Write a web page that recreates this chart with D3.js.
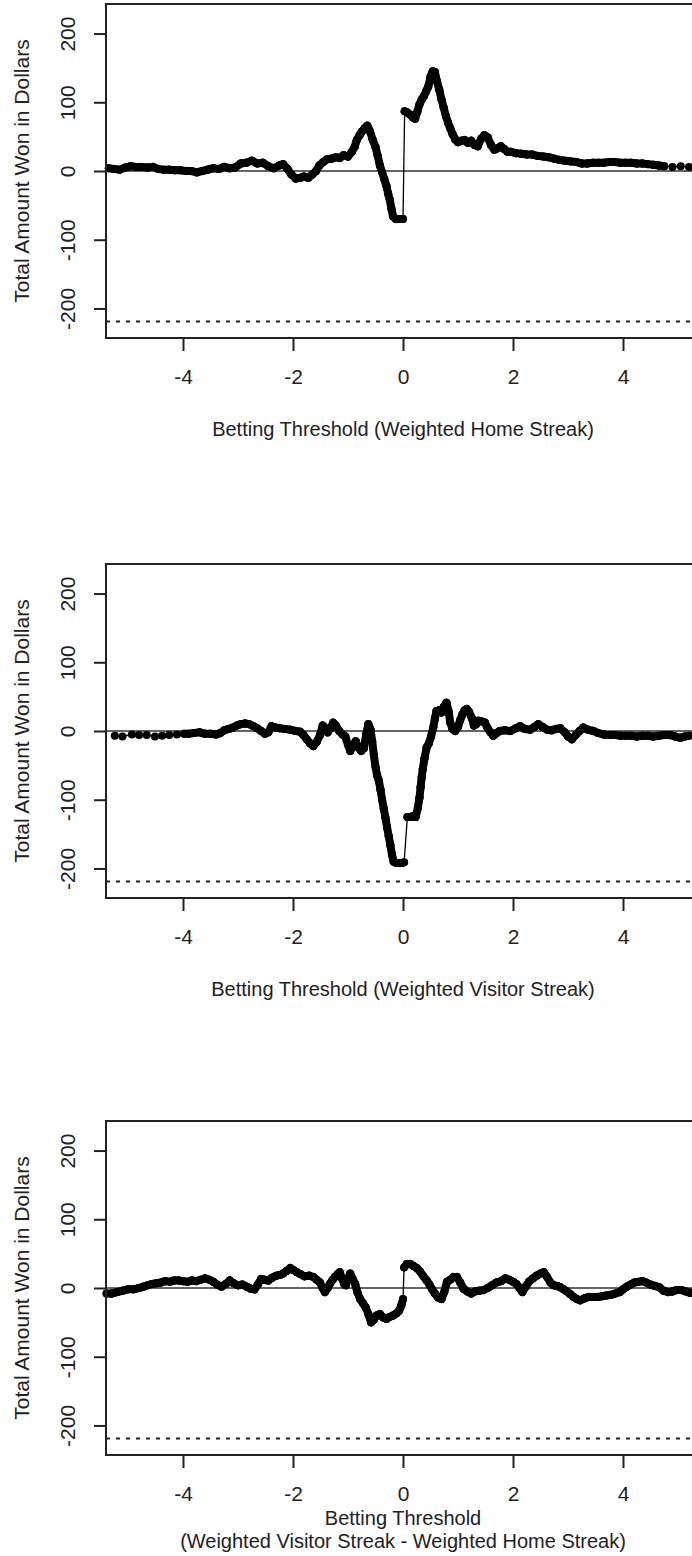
<!DOCTYPE html>
<html>
<head>
<meta charset="utf-8">
<script src="https://cdnjs.cloudflare.com/ajax/libs/d3/7.8.5/d3.min.js"></script>
<style>
  body { margin: 0; background: #fff; }
  svg { display: block; }
  text { font-family: "Liberation Sans", Arial, Helvetica, sans-serif; fill: #222; }
</style>
</head>
<body>
<div id="viz_div"></div>
<script>
// DATA (threshold, total amount won)
// ---------------------------------------------------------------------------------------------------------------------------------
const homePoints = [
  [-5.35, 4], [-5.25, 3], [-5.15, 2], [-5.05, 5], [-4.95, 7], [-4.85, 6], [-4.75, 6], [-4.65, 5], [-4.55, 6], [-4.45, 3],
  [-4.35, 2], [-4.25, 2], [-4.15, 1], [-4.05, 1], [-3.95, 0], [-3.85, 0], [-3.75, -2], [-3.65, 0], [-3.55, 2], [-3.45, 4],
  [-3.35, 3], [-3.25, 6], [-3.15, 4], [-3.05, 5], [-2.95, 11], [-2.85, 12], [-2.75, 15], [-2.65, 11], [-2.55, 12], [-2.45, 7],
  [-2.35, 4], [-2.25, 8], [-2.18, 10], [-2.1, 3], [-2.03, -5], [-1.95, -11], [-1.87, -10], [-1.8, -8], [-1.72, -10], [-1.65, -5],
  [-1.58, 0], [-1.52, 8], [-1.45, 13], [-1.38, 17], [-1.3, 18], [-1.22, 20], [-1.15, 19], [-1.08, 23], [-1.0, 21], [-0.93, 28],
  [-0.88, 35], [-0.84, 45], [-0.79, 52], [-0.75, 57], [-0.7, 62], [-0.65, 66], [-0.6, 58], [-0.55, 45], [-0.5, 35], [-0.46, 22],
  [-0.42, 8], [-0.38, -2], [-0.34, -12], [-0.3, -22], [-0.27, -33], [-0.24, -42], [-0.21, -55], [-0.18, -66], [-0.13, -70], [-0.08, -70],
  [-0.03, -70], [0.0, -70],
  [0.03, 87], [0.08, 85], [0.13, 82], [0.18, 78], [0.22, 76], [0.26, 86], [0.3, 97], [0.34, 104], [0.38, 109], [0.42, 116],
  [0.46, 123], [0.5, 137], [0.54, 145], [0.58, 144], [0.62, 130], [0.66, 118], [0.7, 104], [0.74, 92], [0.78, 80], [0.82, 70],
  [0.86, 62], [0.9, 54], [0.95, 46], [1.0, 42], [1.06, 44], [1.12, 45], [1.18, 41], [1.24, 44], [1.3, 38], [1.36, 36],
  [1.42, 47], [1.48, 52], [1.54, 49], [1.6, 38], [1.66, 31], [1.72, 33], [1.78, 36], [1.84, 32], [1.9, 28], [1.96, 28],
  [2.05, 26], [2.15, 25], [2.25, 24], [2.35, 24], [2.45, 22], [2.55, 21], [2.65, 20], [2.75, 18], [2.85, 16], [2.95, 15],
  [3.05, 14], [3.15, 13], [3.25, 11], [3.35, 11], [3.45, 12], [3.55, 12], [3.65, 12], [3.75, 13], [3.85, 13], [3.95, 12],
  [4.05, 12], [4.15, 12], [4.25, 11], [4.35, 11], [4.45, 10], [4.55, 9], [4.65, 8], [4.75, 7], [4.9, 6], [5.05, 7],
  [5.2, 6], [5.35, 6]
];

const visitorPoints = [
  [-5.24, -7], [-5.1, -8], [-4.93, -5], [-4.8, -6], [-4.66, -6], [-4.51, -8], [-4.38, -7], [-4.25, -6], [-4.11, -5], [-3.98, -4],
  [-3.9, -4], [-3.8, -3], [-3.7, -2], [-3.6, -4], [-3.5, -4], [-3.4, -5], [-3.32, -3], [-3.25, 1], [-3.17, 3], [-3.09, 5],
  [-3.02, 8], [-2.95, 10], [-2.87, 11], [-2.8, 10], [-2.72, 7], [-2.65, 4], [-2.58, 0], [-2.51, -4], [-2.45, -2], [-2.39, 7],
  [-2.32, 5], [-2.24, 4], [-2.15, 3], [-2.05, 2], [-1.95, 0], [-1.87, -1], [-1.81, -6], [-1.75, -12], [-1.69, -18], [-1.63, -22],
  [-1.57, -16], [-1.51, -6], [-1.46, 8], [-1.41, 4], [-1.37, -2], [-1.32, 4], [-1.27, 12], [-1.22, 8], [-1.16, 0], [-1.1, -5],
  [-1.05, -8], [-1.0, -20], [-0.96, -29], [-0.91, -22], [-0.86, -15], [-0.81, -24], [-0.76, -29], [-0.71, -25], [-0.67, -5], [-0.63, 10],
  [-0.59, 2], [-0.56, -15], [-0.53, -35], [-0.5, -52], [-0.47, -65], [-0.44, -72], [-0.41, -85], [-0.38, -100], [-0.35, -113], [-0.32, -126],
  [-0.29, -140], [-0.26, -153], [-0.23, -166], [-0.2, -180], [-0.17, -190], [-0.12, -192], [-0.07, -192], [-0.02, -192], [0.02, -191],
  [0.08, -125], [0.13, -125], [0.18, -124], [0.23, -125], [0.27, -112], [0.3, -97], [0.32, -82], [0.34, -67], [0.36, -55], [0.39, -40],
  [0.43, -24], [0.47, -18], [0.51, -8], [0.55, 5], [0.58, 18], [0.61, 29], [0.65, 30], [0.7, 27], [0.74, 35], [0.79, 41],
  [0.83, 28], [0.86, 12], [0.9, 3], [0.95, 0], [1.0, 6], [1.04, 16], [1.08, 24], [1.12, 30], [1.16, 32], [1.2, 28],
  [1.25, 19], [1.29, 8], [1.33, 10], [1.37, 15], [1.43, 14], [1.49, 12], [1.54, 4], [1.59, -2], [1.64, -7], [1.7, -3],
  [1.76, 0], [1.85, 1], [1.95, 0], [2.05, 4], [2.13, 7], [2.22, 3], [2.31, 2], [2.39, 6], [2.46, 10], [2.54, 6],
  [2.62, 2], [2.7, 1], [2.78, 3], [2.86, 4], [2.94, -2], [3.0, -8], [3.07, -12], [3.14, -6], [3.21, 0], [3.28, 5],
  [3.36, 2], [3.46, 0], [3.55, -3], [3.65, -5], [3.75, -6], [3.85, -6], [3.95, -7], [4.05, -7], [4.15, -7], [4.25, -8],
  [4.35, -7], [4.45, -7], [4.55, -8], [4.65, -7], [4.75, -6], [4.85, -6], [4.95, -8], [5.04, -10], [5.12, -8], [5.2, -7]
];

const diffPoints = [
  [-5.39, -8], [-5.3, -8], [-5.2, -6], [-5.1, -4], [-5.0, -2], [-4.9, -2], [-4.8, 0], [-4.72, 2], [-4.64, 4], [-4.56, 6],
  [-4.48, 7], [-4.4, 8], [-4.32, 10], [-4.24, 9], [-4.16, 11], [-4.08, 11], [-4.0, 10], [-3.92, 9], [-3.84, 11], [-3.76, 10],
  [-3.68, 12], [-3.6, 14], [-3.52, 12], [-3.45, 9], [-3.38, 5], [-3.3, 2], [-3.22, 6], [-3.15, 11], [-3.08, 7], [-3.0, 4],
  [-2.92, 5], [-2.84, 2], [-2.77, -1], [-2.7, -2], [-2.64, 5], [-2.58, 13], [-2.52, 12], [-2.45, 11], [-2.38, 15], [-2.3, 18],
  [-2.24, 19], [-2.18, 21], [-2.11, 25], [-2.05, 29], [-1.99, 26], [-1.93, 23], [-1.86, 20], [-1.79, 17], [-1.71, 18], [-1.63, 16],
  [-1.57, 12], [-1.51, 8], [-1.46, 0], [-1.42, -6], [-1.37, 0], [-1.33, 6], [-1.28, 12], [-1.24, 16], [-1.19, 20], [-1.15, 23],
  [-1.11, 14], [-1.07, 6], [-1.04, 4], [-1.0, 14], [-0.96, 21], [-0.92, 14], [-0.87, 6], [-0.83, -6], [-0.78, -16], [-0.73, -22],
  [-0.68, -28], [-0.63, -38], [-0.58, -50], [-0.53, -46], [-0.48, -40], [-0.42, -38], [-0.36, -43], [-0.3, -45], [-0.24, -42], [-0.18, -40],
  [-0.12, -37], [-0.07, -33], [-0.03, -25], [0.0, -16],
  [0.02, 30], [0.07, 35], [0.13, 35], [0.19, 32], [0.25, 29], [0.31, 24], [0.37, 17], [0.43, 11], [0.48, 5], [0.53, -2],
  [0.58, -8], [0.64, -14], [0.7, -16], [0.75, -6], [0.8, 9], [0.86, 12], [0.92, 16], [0.98, 16], [1.04, 8], [1.1, -1],
  [1.17, -5], [1.24, -8], [1.31, -5], [1.38, -4], [1.46, -3], [1.54, 0], [1.62, 4], [1.7, 8], [1.78, 10], [1.86, 14],
  [1.93, 12], [2.0, 9], [2.06, 6], [2.12, 0], [2.17, -6], [2.23, 2], [2.29, 9], [2.36, 14], [2.43, 18], [2.5, 21],
  [2.56, 23], [2.62, 16], [2.68, 8], [2.74, 4], [2.8, 3], [2.86, 1], [2.92, -2], [2.98, -5], [3.04, -9], [3.1, -13],
  [3.16, -16], [3.22, -18], [3.3, -15], [3.38, -13], [3.46, -13], [3.54, -13], [3.62, -12], [3.7, -11], [3.78, -10], [3.86, -8],
  [3.94, -6], [4.0, -2], [4.07, 2], [4.14, 5], [4.21, 8], [4.28, 9], [4.35, 10], [4.42, 8], [4.5, 5], [4.58, 3],
  [4.66, 1], [4.74, -4], [4.82, -6], [4.9, -5], [4.98, -3], [5.06, -3], [5.14, -5], [5.22, -7], [5.3, -7]
];

const xTicks = [-4, -2, 0, 2, 4];
const yTicks = [-200, -100, 0, 100, 200];
const breakEven = -219;
const yLabel = "Total Amount Won in Dollars";
const xLabels = [
  ["Betting Threshold (Weighted Home Streak)"],
  ["Betting Threshold (Weighted Visitor Streak)"],
  ["Betting Threshold", "(Weighted Visitor Streak - Weighted Home Streak)"]
];

// LAYOUT
// ---------------------------------------------------------------------------------------------------------------------------------
const W = 692, H = 1556;
const left = 106, right = 700;
const plotH = 334;
const panelTops = [4, 564, 1121];

const svg = d3.select("#viz_div").append("svg")
  .attr("width", W)
  .attr("height", H);

const x = d3.scaleLinear([-5.4, 5.4], [left, right]);

function drawPanel(top, points, labelLines) {
  const bottom = top + plotH;
  const y = d3.scaleLinear([-243, 243], [bottom, top]);
  const g = svg.append("g");

  // reference lines
  g.append("line")
    .attr("x1", x(-5.4)).attr("x2", x(5.4))
    .attr("y1", y(0)).attr("y2", y(0))
    .attr("stroke", "#333").attr("stroke-width", 1.6);

  g.append("line")
    .attr("x1", x(-5.4)).attr("x2", x(5.4))
    .attr("y1", y(breakEven)).attr("y2", y(breakEven))
    .attr("stroke", "#222").attr("stroke-width", 2)
    .attr("stroke-dasharray", "4,6");

  // series: short steps drawn heavy, long jumps only as a thin connector
  const segs = d3.pairs(points).map(([a, b]) => ({
    a, b,
    thick: Math.abs(x(b[0]) - x(a[0])) <= 6.5 && Math.abs(y(b[1]) - y(a[1])) <= 20
  }));

  g.selectAll(".seg")
    .data(segs)
    .join("line")
    .attr("class", "seg")
    .attr("x1", d => x(d.a[0])).attr("y1", d => y(d.a[1]))
    .attr("x2", d => x(d.b[0])).attr("y2", d => y(d.b[1]))
    .attr("stroke", "#000")
    .attr("stroke-width", d => d.thick ? 8 : 1.3)
    .attr("stroke-linecap", "round");

  g.selectAll(".pt")
    .data(points)
    .join("circle")
    .attr("class", "pt")
    .attr("cx", d => x(d[0]))
    .attr("cy", d => y(d[1]))
    .attr("r", 4)
    .attr("fill", "#000");

  // box (right side falls just outside the page)
  g.append("rect")
    .attr("x", left).attr("y", top)
    .attr("width", right - left).attr("height", plotH)
    .attr("fill", "none").attr("stroke", "#222").attr("stroke-width", 2);

  // axes
  const xAxis = g.append("g")
    .attr("transform", `translate(0,${bottom})`)
    .call(d3.axisBottom(x).tickValues(xTicks).tickSize(13).tickFormat(d => String(d)));
  xAxis.select(".domain").remove();
  xAxis.selectAll("line").attr("stroke", "#222").attr("stroke-width", 2);
  xAxis.selectAll("text")
    .attr("y", 46).attr("dy", 0)
    .style("font-size", "21px")
    .attr("fill", "#222");

  const yAxis = g.append("g")
    .attr("transform", `translate(${left},0)`)
    .call(d3.axisLeft(y).tickValues(yTicks).tickSize(12).tickFormat(d => String(d)));
  yAxis.select(".domain").remove();
  yAxis.selectAll("line").attr("stroke", "#222").attr("stroke-width", 2);
  yAxis.selectAll("text")
    .attr("transform", "rotate(-90)")
    .attr("x", 0).attr("y", -31).attr("dy", 0)
    .attr("text-anchor", "middle")
    .style("font-size", "21px")
    .attr("fill", "#222");

  // axis titles
  const single = labelLines.length === 1;
  g.selectAll(".xlab")
    .data(labelLines)
    .join("text")
    .attr("class", "xlab")
    .attr("x", (left + right) / 2)
    .attr("y", (d, i) => single ? bottom + 98 : bottom + 70 + i * 23)
    .attr("text-anchor", "middle")
    .style("font-size", "20px")
    .text(d => d);

  g.append("text")
    .attr("transform", `translate(28.5,${(top + bottom) / 2}) rotate(-90)`)
    .attr("text-anchor", "middle")
    .style("font-size", "21px")
    .text(yLabel);
}

drawPanel(panelTops[0], homePoints, xLabels[0]);
drawPanel(panelTops[1], visitorPoints, xLabels[1]);
drawPanel(panelTops[2], diffPoints, xLabels[2]);
</script>
</body>
</html>
